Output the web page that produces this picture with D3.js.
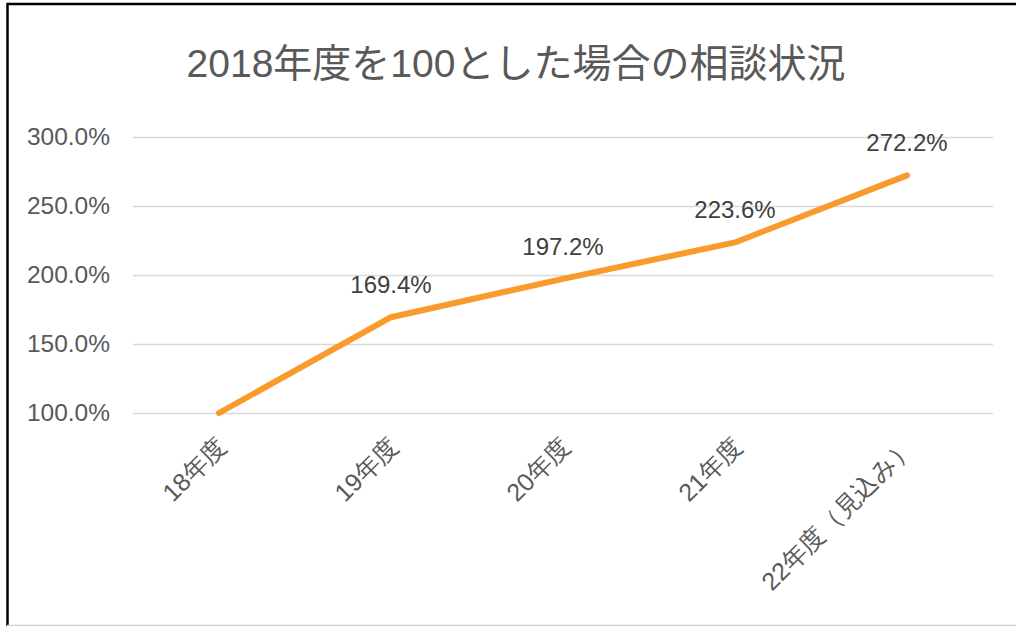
<!DOCTYPE html>
<html>
<head>
<meta charset="utf-8">
<script src="https://cdn.jsdelivr.net/npm/d3@7"></script>
<style>
  body { margin: 0; background: #fff; }
  svg { display: block; font-family: "Liberation Sans", Arial, "Noto Sans CJK JP", sans-serif; }
</style>
</head>
<body>
<div id="chart"></div>
<script>
// chart data
const titleText = "2018年度を100とした場合の相談状況";
const categories = ["18年度", "19年度", "20年度", "21年度", "22年度（見込み）"];
const values = [100.0, 169.4, 197.2, 223.6, 272.2];
const yTicks = [100, 150, 200, 250, 300];

const width = 1016, height = 626;
const margin = {top: 137, right: 23, bottom: 213, left: 133};

let svg = d3.select("#chart")
    .append("svg")
    .attr("width", width)
    .attr("height", height);

// frame
svg.append("rect")
    .attr("x", 0).attr("y", 0)
    .attr("width", width).attr("height", height)
    .attr("fill", "#fff");
svg.append("line")
    .attr("x1", 7).attr("x2", width).attr("y1", 4).attr("y2", 4)
    .attr("stroke", "#000").attr("stroke-width", 2.5);
svg.append("line")
    .attr("x1", 7.5).attr("x2", 7.5).attr("y1", 3).attr("y2", height)
    .attr("stroke", "#000").attr("stroke-width", 2.5);
svg.append("line")
    .attr("x1", 7).attr("x2", width).attr("y1", 625.5).attr("y2", 625.5)
    .attr("stroke", "#d0d0d0").attr("stroke-width", 1.5);

let x = d3.scaleBand()
    .domain(categories)
    .range([margin.left, width - margin.right]);

let y = d3.scaleLinear()
    .domain([100, 300])
    .range([height - margin.bottom, margin.top]);

// title
svg.append("text")
    .attr("x", 516)
    .attr("y", 77)
    .attr("text-anchor", "middle")
    .attr("font-size", 39)
    .attr("fill", "#595959")
    .text(titleText);

// gridlines + y labels
let yAxis = svg.append("g")
    .attr("transform", `translate(${margin.left},0)`)
    .call(d3.axisLeft(y)
        .tickValues(yTicks)
        .tickSize(-(width - margin.left - margin.right))
        .tickPadding(23)
        .tickFormat(d => d.toFixed(1) + "%"));
yAxis.select(".domain").remove();
yAxis.selectAll(".tick line")
    .attr("stroke", "#d9d9d9")
    .attr("stroke-width", 1.5);
yAxis.selectAll(".tick text")
    .attr("font-size", 24.5)
    .attr("fill", "#595959")
    .attr("font-family", "'Liberation Sans', Arial, sans-serif");

// x labels, rotated
let xAxis = svg.append("g")
    .attr("transform", `translate(0,${height - margin.bottom})`)
    .call(d3.axisBottom(x).tickSize(0).tickPadding(0));
xAxis.select(".domain").remove();
xAxis.selectAll(".tick text")
    .attr("font-size", 25)
    .attr("fill", "#595959")
    .attr("text-anchor", "end")
    .attr("dy", 0)
    .attr("transform", "translate(9,35) rotate(-45)");

// line
let line = d3.line()
    .x((d, i) => x(categories[i]) + x.bandwidth() / 2)
    .y(d => y(d));

svg.append("path")
    .datum(values)
    .attr("d", line)
    .attr("fill", "none")
    .attr("stroke", "#F99A2D")
    .attr("stroke-width", 6)
    .attr("stroke-linecap", "round")
    .attr("stroke-linejoin", "round");

// data labels (no label on the first point)
svg.selectAll(".dlabel")
    .data(values.slice(1))
    .join("text")
    .attr("class", "dlabel")
    .attr("x", (d, i) => x(categories[i + 1]) + x.bandwidth() / 2)
    .attr("y", d => y(d) - 24)
    .attr("text-anchor", "middle")
    .attr("font-size", 24)
    .attr("fill", "#404040")
    .text(d => d.toFixed(1) + "%");
</script>
</body>
</html>
